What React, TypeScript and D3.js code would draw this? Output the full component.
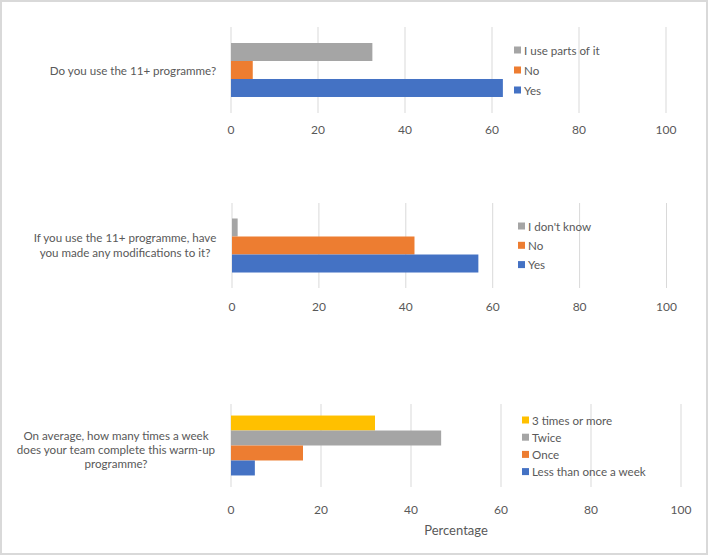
import * as d3 from 'd3';

// Question 1
const q1Label = ['Do you use the 11+ programme?'];
const q1Categories = ['Yes', 'No', 'I use parts of it'];
const q1Values = [62.5, 5, 32.5];

// Question 2
const q2Label = ['If you use the 11+ programme, have', 'you made any modifications to it?'];
const q2Categories = ['Yes', 'No', "I don't know"];
const q2Values = [56.7, 42, 1.3];

// Question 3
const q3Label = ['On average, how many times a week', 'does your team complete this warm-up', 'programme?'];
const q3Categories = ['Less than once a week', 'Once', 'Twice', '3 times or more'];
const q3Values = [5.3, 16, 46.7, 32];

const xTicks = [0, 20, 40, 60, 80, 100];
const axisTitle = 'Percentage';

const palette = ['#4472C4', '#ED7D31', '#A5A5A5', '#FFC000'];
const FONT = 'Lato, "Open Sans", sans-serif';
const TEXT = '#595959';
const GRID = '#D9D9D9';

type PanelProps = {
  label: string[];
  categories: string[];
  values: number[];
  x0: number;
  x1: number;
  gridTop: number;
  gridBottom: number;
  outerPad: number;
  tickY: number;
  labelX: number;
  labelY: number;
  lineGap: number;
  legendX: number;
  legendY: number;
  legendGap: number;
  title?: string;
  titleY?: number;
};

const Panel = (p: PanelProps) => {
  const x = d3.scaleLinear().domain([0, 100]).range([p.x0, p.x1]);
  // Excel draws the first series at the bottom
  const order = p.categories.map((c, i) => i).reverse();
  const y = d3.scaleBand<number>()
    .domain(order)
    .range([p.gridTop, p.gridBottom])
    .paddingInner(0)
    .paddingOuter(p.outerPad);

  return (
    <g>
      {xTicks.map(t => (
        <line key={'g' + t} x1={x(t)} x2={x(t)} y1={p.gridTop} y2={p.gridBottom} stroke={GRID} strokeWidth={1} />
      ))}
      {order.map(i => (
        <rect key={'b' + i} x={x(0)} y={y(i)} width={x(p.values[i]) - x(0)} height={y.bandwidth()} fill={palette[i]} />
      ))}
      {xTicks.map(t => (
        <text key={'t' + t} x={x(t)} y={p.tickY} textAnchor="middle" dominantBaseline="central"
          fontSize={12} fill={TEXT} fontFamily={FONT}>{t}</text>
      ))}
      {p.label.map((s, k) => (
        <text key={'l' + k} x={p.labelX} y={p.labelY + k * p.lineGap} textAnchor="middle" dominantBaseline="central"
          fontSize={11.6} fill={TEXT} fontFamily={FONT}>{s}</text>
      ))}
      {order.map((i, k) => (
        <g key={'lg' + i} transform={`translate(${p.legendX},${p.legendY + k * p.legendGap})`}>
          <rect x={0} y={-3.5} width={7} height={7} fill={palette[i]} />
          <text x={10} y={0} dominantBaseline="central" fontSize={11.6} fill={TEXT} fontFamily={FONT}>
            {p.categories[i]}
          </text>
        </g>
      ))}
      {p.title && (
        <text x={(p.x0 + p.x1) / 2} y={p.titleY} textAnchor="middle" dominantBaseline="central"
          fontSize={13} fill={TEXT} fontFamily={FONT}>{p.title}</text>
      )}
    </g>
  );
};

export default function App() {
  return (
    <svg width={708} height={555} style={{ position: 'absolute', left: 0, top: 0, background: '#fff' }}>
      <rect x={1} y={1} width={706} height={553} fill="#fff" stroke="#D9D9D9" strokeWidth={2} />
      <Panel label={q1Label} categories={q1Categories} values={q1Values}
        x0={231} x1={666} gridTop={27} gridBottom={113} outerPad={0.89} tickY={129}
        labelX={133} labelY={70} lineGap={14.5}
        legendX={514} legendY={50} legendGap={20} />
      <Panel label={q2Label} categories={q2Categories} values={q2Values}
        x0={232} x1={666.5} gridTop={203} gridBottom={288} outerPad={0.86} tickY={306}
        labelX={125} labelY={237.5} lineGap={14.5}
        legendX={518} legendY={226} legendGap={19.3} />
      <Panel label={q3Label} categories={q3Categories} values={q3Values}
        x0={231} x1={681} gridTop={404} gridBottom={487} outerPad={0.77} tickY={509}
        labelX={116} labelY={435} lineGap={14.3}
        legendX={522} legendY={420} legendGap={17.2}
        title={axisTitle} titleY={530} />
    </svg>
  );
}
